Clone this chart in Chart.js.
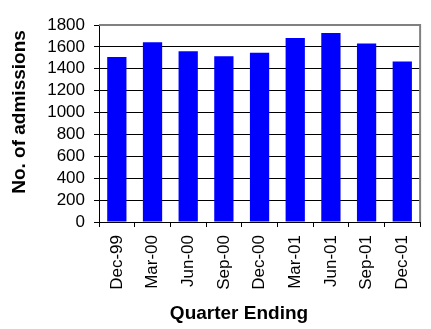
<!DOCTYPE html>
<html>
<head>
<meta charset="utf-8">
<script src="https://cdn.jsdelivr.net/npm/chart.js@4"></script>
<style>
  html, body { margin: 0; padding: 0; background: #fff; }
  canvas { display: block; }
</style>
</head>
<body>
<canvas id="myChart" width="431" height="329"></canvas>
<script>
// chart data
const quarters = ['Dec-99', 'Mar-00', 'Jun-00', 'Sep-00', 'Dec-00', 'Mar-01', 'Jun-01', 'Sep-01', 'Dec-01'];
const admissions = [1508, 1643, 1560, 1515, 1546, 1682, 1727, 1632, 1467];
const yTicks = [0, 200, 400, 600, 800, 1000, 1200, 1400, 1600, 1800];
const xTitle = 'Quarter Ending';
const yTitle = 'No. of admissions';

const font = '"Liberation Sans", Arial, sans-serif';

// grey frame on top/right + axis titles
const frame = {
	id: 'frame',
	afterDraw(chart) {
		const { ctx, chartArea: a } = chart;
		ctx.save();
		ctx.strokeStyle = '#808080';
		ctx.lineWidth = 2;
		ctx.beginPath();
		ctx.moveTo(a.left, a.top);
		ctx.lineTo(a.right, a.top);
		ctx.lineTo(a.right, a.bottom);
		ctx.stroke();

		ctx.fillStyle = '#000';
		ctx.font = 'bold 19px ' + font;
		ctx.textAlign = 'center';
		ctx.textBaseline = 'alphabetic';
		ctx.fillText(xTitle, 239, 319);
		ctx.translate(25, 112);
		ctx.rotate(-Math.PI / 2);
		ctx.fillText(yTitle, 0, 0);
		ctx.restore();
	}
};

const ctx = document.getElementById('myChart').getContext('2d');
const myChart = new Chart(ctx, {
	type: 'bar',
	data: {
		labels: quarters,
		datasets: [{
			data: admissions,
			backgroundColor: '#0000ff',
			borderWidth: 0,
			categoryPercentage: 1,
			barPercentage: 0.54
		}]
	},
	options: {
		responsive: false,
		animation: false,
		devicePixelRatio: 1,
		layout: { padding: { top: 25, right: 6, left: 0, bottom: 0 } },
		plugins: { legend: { display: false }, tooltip: { enabled: false } },
		scales: {
			x: {
				grid: { drawOnChartArea: false, tickLength: 5, tickColor: '#000', offset: true },
				border: { color: '#000', width: 1 },
				ticks: {
					color: '#000',
					font: { family: font, size: 17 },
					minRotation: 90,
					maxRotation: 90,
					autoSkip: false,
					padding: 8
				},
				afterFit(scale) { scale.height = 107; }
			},
			y: {
				min: yTicks[0],
				max: yTicks[yTicks.length - 1],
				afterBuildTicks(scale) { scale.ticks = yTicks.map(v => ({ value: v })); },
				grid: { color: '#000', tickLength: 5, tickColor: '#000' },
				border: { color: '#000', width: 1 },
				ticks: {
					color: '#000',
					font: { family: font, size: 17 },
					autoSkip: false,
					padding: 9,
					callback: v => String(v)
				},
				afterFit(scale) { scale.width = 99; }
			}
		}
	},
	plugins: [frame]
});
</script>
</body>
</html>
